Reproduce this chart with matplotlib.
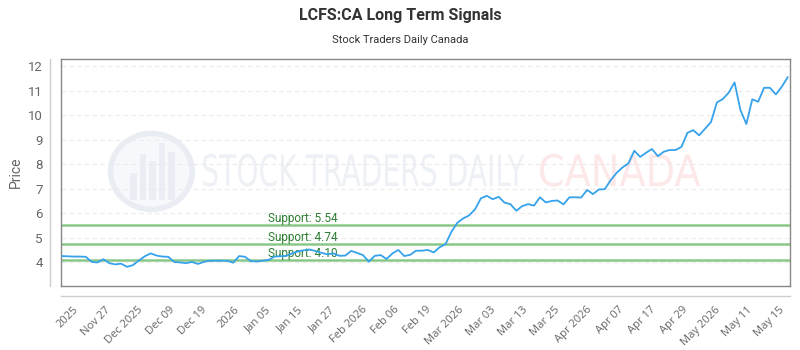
import matplotlib
matplotlib.use("Agg")
import matplotlib.pyplot as plt
import numpy as np
from matplotlib.textpath import TextPath
from matplotlib.patches import PathPatch, Ellipse, Rectangle
from matplotlib.font_manager import FontProperties
from matplotlib.transforms import Affine2D

# Daily closes (one per trading day)
prices = [
    4.26, 4.25, 4.24, 4.24, 4.23, 4.02, 4.00, 4.13, 3.97, 3.92,
    3.95, 3.82, 3.89, 4.08, 4.25, 4.37, 4.28, 4.24, 4.23, 4.02,
    4.00, 3.97, 4.02, 3.94, 4.02, 4.07, 4.07, 4.07, 4.07, 3.99,
    4.26, 4.23, 4.05, 4.04, 4.07, 4.10, 4.24, 4.25, 4.27, 4.37,
    4.45, 4.50, 4.53, 4.46, 4.39, 4.33, 4.37, 4.27, 4.28, 4.47,
    4.39, 4.30, 4.03, 4.27, 4.30, 4.14, 4.37, 4.51, 4.26, 4.31,
    4.48, 4.48, 4.51, 4.41, 4.62, 4.75, 5.25, 5.62, 5.80, 5.92,
    6.17, 6.62, 6.72, 6.58, 6.68, 6.44, 6.38, 6.11, 6.30, 6.38,
    6.32, 6.66, 6.45, 6.51, 6.53, 6.37, 6.66, 6.66, 6.65, 6.96,
    6.79, 6.98, 6.99, 7.36, 7.66, 7.88, 8.04, 8.56, 8.31, 8.48,
    8.63, 8.34, 8.52, 8.59, 8.59, 8.72, 9.29, 9.40, 9.19, 9.46,
    9.73, 10.53, 10.67, 10.93, 11.35, 10.22, 9.65, 10.66, 10.56, 11.13,
    11.13, 10.86, 11.17, 11.56,
]

tick_labels = ["2025", "Nov 27", "Dec 2025", "Dec 09", "Dec 19", "2026",
               "Jan 05", "Jan 15", "Jan 27", "Feb 2026", "Feb 06", "Feb 19",
               "Mar 2026", "Mar 03", "Mar 13", "Mar 25", "Apr 2026", "Apr 07",
               "Apr 17", "Apr 29", "May 2026", "May 11", "May 15"]
tick_pos = np.linspace(2.5, 122.2, len(tick_labels))

supports = [5.54, 4.74, 4.10]

GRAY = "#666666"
LINE = "#36a2eb"

fig = plt.figure(figsize=(8, 3.5), dpi=100)
ax = fig.add_axes([0.07625, 0.183, 0.91125, 0.648])

x = np.arange(len(prices))

# watermark: logo circle + squeezed text
logo = Ellipse((0.124, 0.505), 0.112, 0.335, transform=ax.transAxes,
               facecolor="#f6f8fb", edgecolor="#e9edf3", lw=4, zorder=0)
ax.add_patch(logo)
for bx, bh in zip([0.095, 0.108, 0.121, 0.134, 0.147], [0.12, 0.2, 0.17, 0.25, 0.21]):
    ax.add_patch(Rectangle((bx, 0.38), 0.009, bh, transform=ax.transAxes,
                           facecolor="#eaeef4", edgecolor="none", zorder=0))

def squeezed_text(s, x0, x1, yc, h, color):
    tp = TextPath((0, 0), s, size=1, prop=FontProperties(family="DejaVu Sans"))
    ext = tp.get_extents()
    sx = (x1 - x0) / ext.width
    sy = h / ext.height
    tr = Affine2D().translate(-ext.x0, -ext.y0).scale(sx, sy).translate(x0, yc - h / 2)
    ax.add_patch(PathPatch(tr.transform_path(tp), transform=ax.transAxes,
                           facecolor=color, edgecolor="none", zorder=0))

squeezed_text("STOCK TRADERS DAILY", 0.195, 0.636, 0.51, 0.145, "#edf0f4")
squeezed_text("CANADA", 0.657, 0.877, 0.51, 0.145, "#fce8e8")

# grid
for v in range(4, 13):
    ax.axhline(v, color="#ebebeb", lw=0.8, ls=(0, (4, 3)), zorder=1)

# support levels
for s in supports:
    ax.axhline(s, color="#9ed49e", lw=2.0, zorder=2)
    ax.axhline(s, color="#7cbf7c", lw=0.5, zorder=2)
    ax.text(0.284, s, f"Support: {s:.2f}", transform=ax.get_yaxis_transform(),
            color="#2e7d32", fontsize=8.5, family="Roboto",
            va="bottom", ha="left", zorder=3)

ax.plot(x, prices, color=LINE, lw=1.3, zorder=4)

ax.set_xlim(-0.2, 123.4)
ax.set_ylim(3.04, 12.30)

ax.set_yticks(range(4, 13))
ax.set_yticklabels([str(v) for v in range(4, 13)], family="Roboto", fontsize=9.5, color=GRAY)
ax.tick_params(axis="y", length=0, pad=13)

ax.set_xticks(tick_pos)
ax.set_xticklabels(tick_labels, rotation=45, ha="right", va="center",
                   rotation_mode="anchor", family="Open Sans", fontsize=8, color=GRAY)
ax.tick_params(axis="x", length=0, pad=16)

for sp in ax.spines.values():
    sp.set_color("#888888")
    sp.set_linewidth(1.0)

# detached axis lines
ax.plot([-0.0151, -0.0151], [0, 1], transform=ax.transAxes, color="#cccccc",
        lw=1, clip_on=False)
ax.plot([0, 1], [-0.044, -0.044], transform=ax.transAxes, color="#cccccc",
        lw=1, clip_on=False)

ax.set_ylabel("Price", family="Roboto", fontsize=10, color=GRAY)
ax.yaxis.set_label_coords(-0.052, 0.5)

fig.text(0.5, 0.955, "LCFS:CA Long Term Signals", ha="center", va="center",
         family="Roboto", fontweight="bold", fontsize=11.5, color="#333333")
fig.text(0.5, 0.885, "Stock Traders Daily Canada", ha="center", va="center",
         family="Roboto", fontsize=8, color="#333333")

fig.savefig("out.png", dpi=100)
